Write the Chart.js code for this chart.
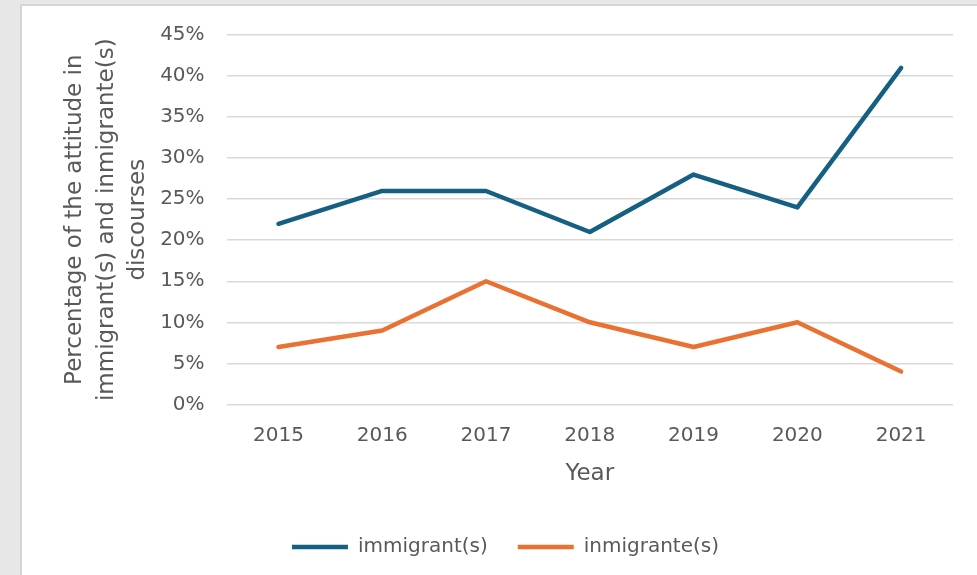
<!DOCTYPE html>
<html>
<head>
<meta charset="utf-8">
<script src="https://cdn.jsdelivr.net/npm/chart.js@4/dist/chart.umd.min.js"></script>
<style>
  html, body { margin: 0; padding: 0; background: #e7e7e7; width: 977px; height: 575px; overflow: hidden; }
  #panel { position: absolute; left: 20px; top: 4px; width: 955px; height: 569px; background: #fff; border: 2px solid #d6d6d6; }
  #myChart { display: block; }
</style>
</head>
<body>
<div id="panel"><canvas id="myChart" width="955" height="569"></canvas></div>
<script>
// Dữ liệu biểu đồ
const years = ["2015", "2016", "2017", "2018", "2019", "2020", "2021"];
const immigrant = [22, 26, 26, 21, 28, 24, 41];
const inmigrante = [7, 9, 15, 10, 7, 10, 4];
const yTitle = ["Percentage of the attitude in", "immigrant(s) and inmigrante(s)", "discourses"];

const textColor = "#595959";
const gridColor = "#d9d9d9";
const fontFamily = "'DejaVu Sans', Verdana, sans-serif";

function makeLine(label, data, color) {
  return {
    label: label,
    data: data,
    borderColor: color,
    backgroundColor: color,
    borderWidth: 4.5,
    borderCapStyle: "round",
    borderJoinStyle: "round",
    pointRadius: 0,
    tension: 0,
  };
}

var ctx = document.getElementById("myChart").getContext("2d");
var chart = new Chart(ctx, {
  type: "line",
  data: {
    labels: years,
    datasets: [
      makeLine("immigrant(s)", immigrant, "#156082"),
      makeLine("inmigrante(s)", inmigrante, "#e97132"),
    ],
  },
  options: {
    responsive: false,
    animation: false,
    layout: { padding: { left: 36, right: 24, top: 29, bottom: 8 } },
    plugins: {
      tooltip: { enabled: false },
      legend: {
        position: "bottom",
        labels: {
          usePointStyle: true,
          pointStyle: "line",
          pointStyleWidth: 56,
          padding: 30,
          color: textColor,
          font: { family: fontFamily, size: 20 },
        },
      },
    },
    scales: {
      x: {
        offset: true,
        // khoảng cách nhãn dùng tickLength (vạch trong suốt)
        grid: { drawOnChartArea: false, drawTicks: true, tickLength: 19, tickColor: "rgba(0,0,0,0)" },
        border: { display: false },
        ticks: {
          padding: 0,
          color: textColor,
          font: { family: fontFamily, size: 20 },
        },
        title: {
          display: true,
          text: "Year",
          color: textColor,
          padding: { top: 13, bottom: 19 },
          font: { family: fontFamily, size: 23 },
        },
      },
      y: {
        min: 0,
        max: 45,
        grid: { color: gridColor, lineWidth: 1.5, drawTicks: true, tickLength: 22, tickColor: "rgba(0,0,0,0)" },
        border: { display: false },
        ticks: {
          stepSize: 5,
          padding: 0,
          color: textColor,
          font: { family: fontFamily, size: 20 },
          callback: (v) => v + "%",
        },
        title: {
          display: true,
          text: yTitle,
          color: textColor,
          padding: { top: 2, bottom: 7 },
          font: { family: fontFamily, size: 23, lineHeight: 1.35 },
        },
      },
    },
  },
});
</script>
</body>
</html>
